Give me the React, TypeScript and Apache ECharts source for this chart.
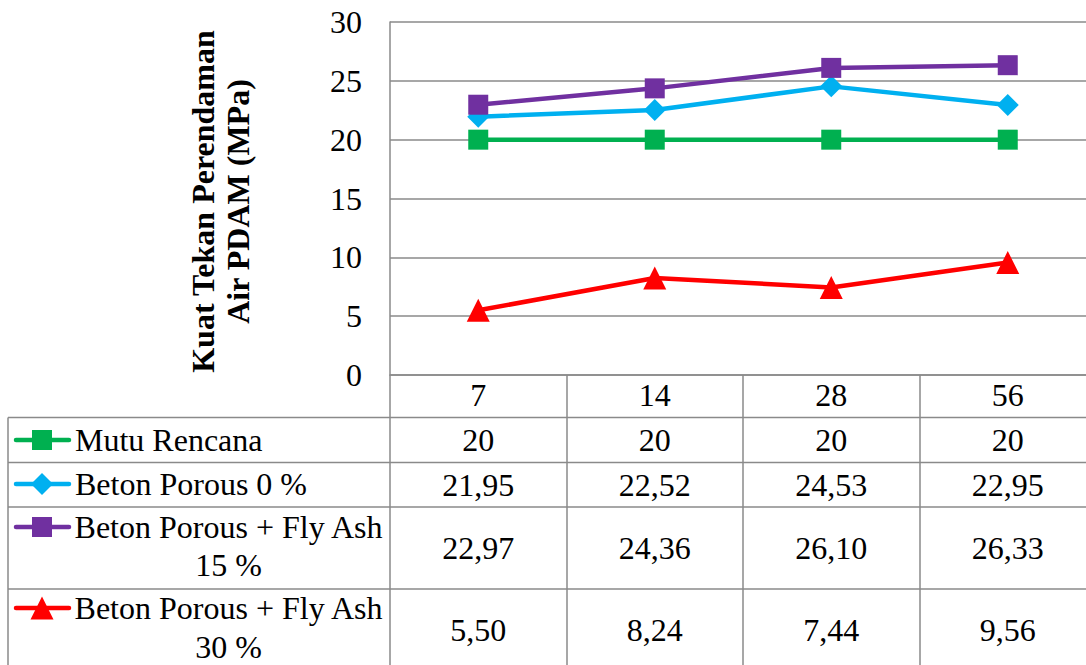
import React, { useEffect, useRef } from "react";
import * as echarts from "echarts";

const categories = ["7", "14", "28", "56"];
const seriesNames = [
  "Mutu Rencana",
  "Beton Porous 0 %",
  "Beton Porous + Fly Ash\n15 %",
  "Beton Porous + Fly Ash\n30 %",
];
const mutuRencana = [20, 20, 20, 20];
const betonPorous0 = [21.95, 22.52, 24.53, 22.95];
const betonPorousFA15 = [22.97, 24.36, 26.1, 26.33];
const betonPorousFA30 = [5.5, 8.24, 7.44, 9.56];
const seriesDecimals = [0, 2, 2, 2];
const yMin = 0;
const yMax = 30;
const yInterval = 5;
const yTitle = "Kuat Tekan Perendaman\nAir PDAM (MPa)";

const seriesData = [mutuRencana, betonPorous0, betonPorousFA15, betonPorousFA30];
const colors = ["#00b050", "#00b0f0", "#7030a0", "#ff0000"];
const symbols = ["rect", "diamond", "rect", "triangle"];
const symbolSizes = [20, 22, 20, 23];

const FONT = "Liberation Serif";
const FS = 32;
const GRAY = "#8a8a8a";

const GL = 390;
const GT = 22;
const GW = 706;
const GH = 353;
const rowTops = [417.5, 462.5, 507, 589];
const rowBottoms = [462.5, 507, 589, 670];
const markerY = [440, 484, 527, 608];
const multiCenters = [0, 0, 546, 627.5];
const LEG_LEFT = 8;
const CW = 1100;
const CH = 665;

function fmt(v: number, d: number) {
  return v.toFixed(d).replace(".", ",");
}

export default function App() {
  const ref = useRef<HTMLDivElement>(null);
  useEffect(() => {
    if (!ref.current) return;
    const chart = echarts.init(ref.current, null, { renderer: "svg" });
    const option: any = {
      animation: false,
      textStyle: { fontFamily: FONT },
      grid: { left: GL, top: GT, width: GW, height: GH, containLabel: false },
      xAxis: {
        type: "category",
        data: categories,
        boundaryGap: true,
        axisLine: { show: true, lineStyle: { color: GRAY, width: 1.5 } },
        axisTick: {
          show: true,
          length: CH - (GT + GH) + 10,
          lineStyle: { color: GRAY, width: 1.5 },
        },
        axisLabel: {
          color: "#000",
          fontFamily: FONT,
          fontSize: FS,
          margin: 4,
        },
        splitLine: { show: false },
      },
      yAxis: {
        type: "value",
        min: yMin,
        max: yMax,
        interval: yInterval,
        axisLine: { show: true, lineStyle: { color: GRAY, width: 1.5 } },
        axisTick: { show: false },
        axisLabel: {
          color: "#000",
          fontFamily: FONT,
          fontSize: FS,
          margin: 28,
        },
        splitLine: { show: true, lineStyle: { color: GRAY, width: 1.5 } },
      },
      series: seriesData.map((d, i) => ({
        type: "line",
        name: seriesNames[i],
        data: d,
        symbol: symbols[i],
        symbolSize: symbolSizes[i],
        showSymbol: true,
        lineStyle: { color: colors[i], width: 4.5 },
        itemStyle: { color: colors[i], borderWidth: 0 },
        z: 10 + i,
      })),
    };
    chart.setOption(option);

    const xs = categories.map((_, i) =>
      chart.convertToPixel({ xAxisIndex: 0 }, i) as number
    );

    const g: any[] = [];
    rowTops.forEach((y) => {
      g.push({
        type: "line",
        shape: { x1: LEG_LEFT, y1: y, x2: CW, y2: y },
        style: { stroke: GRAY, lineWidth: 1.5 },
        silent: true,
      });
    });
    g.push({
      type: "line",
      shape: { x1: LEG_LEFT, y1: rowTops[0], x2: LEG_LEFT, y2: CH + 10 },
      style: { stroke: GRAY, lineWidth: 1.5 },
      silent: true,
    });

    seriesNames.forEach((name, i) => {
      const cy = markerY[i];
      g.push({
        type: "line",
        shape: { x1: 16, y1: cy, x2: 69, y2: cy },
        style: { stroke: colors[i], lineWidth: 4.5, lineCap: "round" },
        z: 20,
      });
      const s = symbolSizes[i];
      if (symbols[i] === "rect") {
        g.push({
          type: "rect",
          shape: { x: 42 - s / 2, y: cy - s / 2, width: s, height: s },
          style: { fill: colors[i] },
          z: 21,
        });
      } else if (symbols[i] === "diamond") {
        g.push({
          type: "polygon",
          shape: {
            points: [
              [42, cy - s / 2],
              [42 + s / 2, cy],
              [42, cy + s / 2],
              [42 - s / 2, cy],
            ],
          },
          style: { fill: colors[i] },
          z: 21,
        });
      } else {
        g.push({
          type: "polygon",
          shape: {
            points: [
              [42, cy - s / 2],
              [42 + s / 2, cy + s / 2],
              [42 - s / 2, cy + s / 2],
            ],
          },
          style: { fill: colors[i] },
          z: 21,
        });
      }
      const multi = name.indexOf("\n") >= 0;
      if (multi) {
        g.push({
          type: "text",
          x: 228.5,
          y: multiCenters[i],
          style: {
            text: name,
            fontFamily: FONT,
            fontSize: FS,
            lineHeight: 38.5,
            fill: "#000",
            align: "center",
            verticalAlign: "middle",
          },
          z: 20,
        });
      } else {
        g.push({
          type: "text",
          x: 75,
          y: cy,
          style: {
            text: name,
            fontFamily: FONT,
            fontSize: FS,
            fill: "#000",
            align: "left",
            verticalAlign: "middle",
          },
          z: 20,
        });
      }
      seriesData[i].forEach((v, j) => {
        g.push({
          type: "text",
          x: xs[j],
          y: (rowTops[i] + rowBottoms[i]) / 2,
          style: {
            text: fmt(v, seriesDecimals[i]),
            fontFamily: FONT,
            fontSize: FS,
            fill: "#000",
            align: "center",
            verticalAlign: "middle",
          },
          z: 20,
        });
      });
    });

    g.push({
      type: "text",
      x: 220,
      y: 201.5,
      rotation: Math.PI / 2,
      style: {
        text: yTitle,
        fontFamily: FONT,
        fontSize: FS,
        fontWeight: "bold",
        lineHeight: 35,
        fill: "#000",
        align: "center",
        verticalAlign: "middle",
      },
      z: 20,
    });

    chart.setOption({ graphic: g });
    return () => chart.dispose();
  }, []);

  return (
    <div
      style={{
        position: "fixed",
        left: 0,
        top: 0,
        width: 1086,
        height: 665,
        overflow: "hidden",
        background: "#fff",
      }}
    >
      <div ref={ref} style={{ width: CW, height: CH }} />
    </div>
  );
}
